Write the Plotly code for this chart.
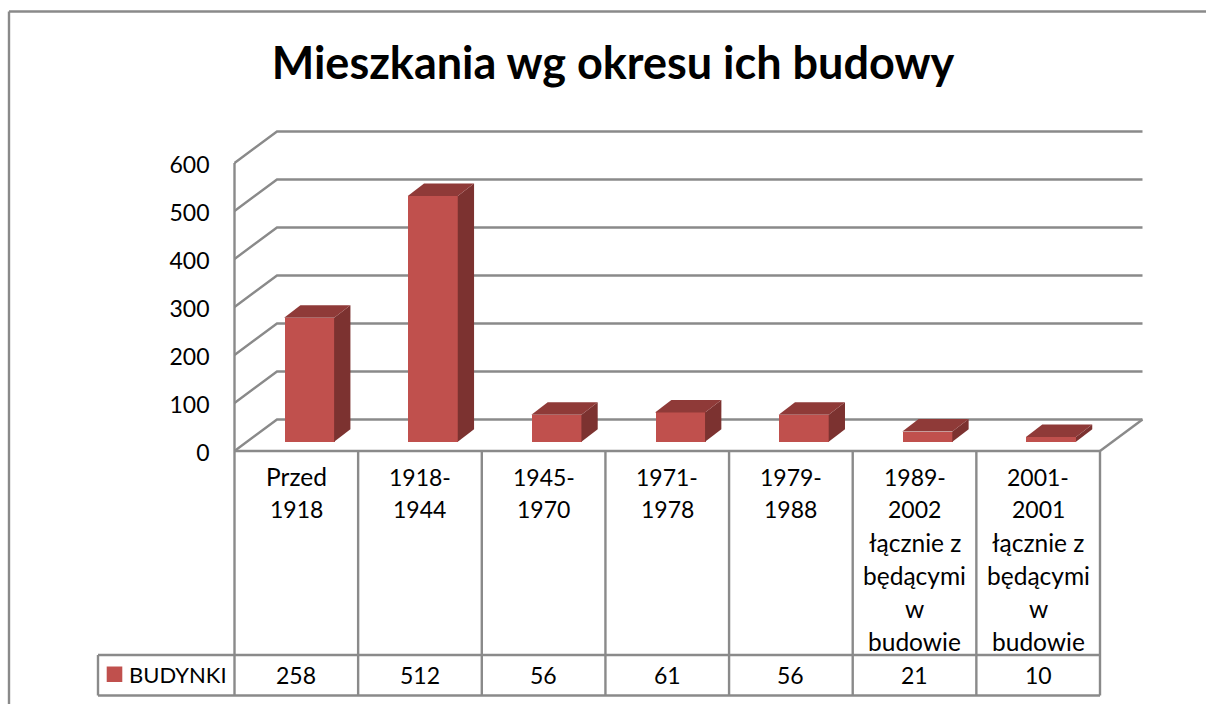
import plotly.graph_objects as go

categories = ["Przed<br>1918", "1918-<br>1944", "1945-<br>1970", "1971-<br>1978", "1979-<br>1988",
              "1989-<br>2002<br>łącznie z<br>będącymi<br>w<br>budowie",
              "2001-<br>2001<br>łącznie z<br>będącymi<br>w<br>budowie"]
values = [258, 512, 56, 61, 56, 21, 10]
series_name = "BUDYNKI"
y_ticks = [0, 100, 200, 300, 400, 500, 600]
title = "Mieszkania wg okresu ich budowy"

W, H = 1206, 704
FONT = "Lato"
GREY = "#8a8a8a"
FRONT, TOP, SIDE = "#C0504D", "#8F3A38", "#7C3230"
TXT = 23

# pixel frame of the pseudo-3D chart box
L, R_FRONT, R_BACK = 234.5, 1100.0, 1143.0
Y0, Y600, Y_BACK_TOP = 451.0, 163.0, 131.0
PAD = 6  # spare pixels round the box so that its edge lines are not clipped
cat_px = (R_FRONT - L) / len(values)
unit_px = (Y0 - Y600) / 600
n = len(values)
xmin = -0.5
x_lo, x_hi = xmin - PAD / cat_px, n - 0.5 + (R_BACK + PAD - R_FRONT) / cat_px
y_lo, y_hi = -PAD / unit_px, (Y0 - Y_BACK_TOP + PAD) / unit_px
wall_dx = (277 - L) / cat_px
wall_dy = (Y0 - 419.5) / unit_px
bar_shift_x = 12.8 / cat_px
bar_shift_y = (Y0 - 441.7) / unit_px
bar_w = 50 / cat_px
depth_x = 16.3 / cat_px
depth_y = 12.5 / unit_px

fig = go.Figure()
grid = dict(mode="lines", line=dict(color=GREY, width=2.4), hoverinfo="skip", showlegend=False)
# back wall gridlines and left wall diagonals
for v in y_ticks:
    fig.add_trace(go.Scatter(x=[xmin, xmin + wall_dx, xmin + wall_dx + n], y=[v, v + wall_dy, v + wall_dy], **grid))
fig.add_trace(go.Scatter(x=[xmin, xmin], y=[0, 600], **grid))
fig.add_trace(go.Scatter(x=[xmin + n, xmin + n + wall_dx], y=[0, wall_dy], **grid))

# front faces
fig.add_trace(go.Bar(x=list(range(n)), y=values, width=bar_w, marker=dict(color=FRONT, line=dict(width=0)),
                     name=series_name, xaxis="x2", yaxis="y2", showlegend=False))
# side and top faces
for i, v in enumerate(values):
    xr, xl = i + bar_w / 2, i - bar_w / 2
    fig.add_trace(go.Scatter(x=[xr, xr + depth_x, xr + depth_x, xr, xr], y=[v, v + depth_y, depth_y, 0, v],
                             fill="toself", fillcolor=SIDE, mode="none", xaxis="x2", yaxis="y2",
                             hoverinfo="skip", showlegend=False))
    fig.add_trace(go.Scatter(x=[xl, xr, xr + depth_x, xl + depth_x, xl], y=[v, v, v + depth_y, v + depth_y, v],
                             fill="toself", fillcolor=TOP, mode="none", xaxis="x2", yaxis="y2",
                             hoverinfo="skip", showlegend=False))


def py(p):
    return 1 - p / H


def px(p):
    return p / W


TABLE_BOTTOM, ROW_TOP, TABLE_LEFT = 695.5, 655.0, 98.0
tl = dict(color=GREY, width=2.4)
shapes = []
for i in range(n + 1):
    shapes.append(dict(type="line", xref="x", yref="paper", x0=xmin + i, x1=xmin + i, y0=py(Y0), y1=py(TABLE_BOTTOM), line=tl))
shapes.append(dict(type="line", xref="paper", yref="paper", x0=px(TABLE_LEFT), x1=px(R_FRONT), y0=py(ROW_TOP), y1=py(ROW_TOP), line=tl))
shapes.append(dict(type="line", xref="paper", yref="paper", x0=px(TABLE_LEFT), x1=px(R_FRONT), y0=py(TABLE_BOTTOM), y1=py(TABLE_BOTTOM), line=tl))
shapes.append(dict(type="line", xref="paper", yref="paper", x0=px(TABLE_LEFT), x1=px(TABLE_LEFT), y0=py(ROW_TOP), y1=py(TABLE_BOTTOM), line=tl))
shapes.append(dict(type="line", xref="paper", yref="paper", x0=px(L), x1=px(R_FRONT), y0=py(Y0), y1=py(Y0), line=tl))
# outer chart frame, open at right and bottom
shapes.append(dict(type="line", xref="paper", yref="paper", x0=px(9), x1=1, y0=py(11.5), y1=py(11.5), line=tl))
shapes.append(dict(type="line", xref="paper", yref="paper", x0=px(9), x1=px(9), y0=py(11.5), y1=0, line=tl))
# legend key
shapes.append(dict(type="rect", xref="paper", yref="paper", x0=px(106.7), x1=px(122.3), y0=py(666.5), y1=py(682),
                   fillcolor=FRONT, line=dict(width=0)))

ann = []
LINE_TOP, LINE_STEP = 476.5, 32.9
for i, c in enumerate(categories):
    for j, part in enumerate(c.split("<br>")):
        size = TXT if part[0].isdigit() else 24.5
        ann.append(dict(x=i, xref="x", y=py(LINE_TOP + j * LINE_STEP), yref="paper", text=part, showarrow=False,
                        xanchor="center", yanchor="middle", font=dict(family=FONT, size=size, color="#000")))
    ann.append(dict(x=i, xref="x", y=py(675), yref="paper", text=str(values[i]), showarrow=False,
                    xanchor="center", yanchor="middle", font=dict(family=FONT, size=TXT, color="#000")))
ann.append(dict(x=px(127), xref="paper", y=py(674), yref="paper", text=series_name, showarrow=False,
                xanchor="left", yanchor="middle", font=dict(family=FONT, size=TXT - 1, color="#000")))

x_domain = [px(L - PAD), px(R_BACK + PAD)]
y_domain = [py(Y0 + PAD), py(Y_BACK_TOP - PAD)]
fig.update_layout(
    template="none",
    width=W, height=H, margin=dict(l=0, r=0, t=0, b=0), paper_bgcolor="white", plot_bgcolor="rgba(0,0,0,0)",
    bargap=0, hovermode=False, shapes=shapes, annotations=ann, showlegend=False,
    title=dict(text=f"<b>{title}</b>", x=613 / W, xanchor="center", y=1 - 63 / H, yanchor="middle", automargin=False,
               font=dict(family=FONT, size=45, color="#000")),
    xaxis=dict(domain=x_domain, range=[x_lo, x_hi], showgrid=False, zeroline=False, showticklabels=False,
               ticks="", automargin=False),
    yaxis=dict(domain=y_domain, range=[y_lo, y_hi], tickvals=y_ticks, showgrid=False, zeroline=False,
               showline=False, ticks="", ticklabelstandoff=18, ticklabelshift=2, automargin=False,
               tickfont=dict(family=FONT, size=TXT, color="#000")),
    xaxis2=dict(domain=x_domain, range=[x_lo - bar_shift_x, x_hi - bar_shift_x], overlaying="x", visible=False,
                automargin=False),
    yaxis2=dict(domain=y_domain, range=[y_lo - bar_shift_y, y_hi - bar_shift_y], overlaying="y", visible=False,
                automargin=False),
)

fig.write_html("out.html", config=dict(displayModeBar=False), post_script="document.body.style.margin='0';")
